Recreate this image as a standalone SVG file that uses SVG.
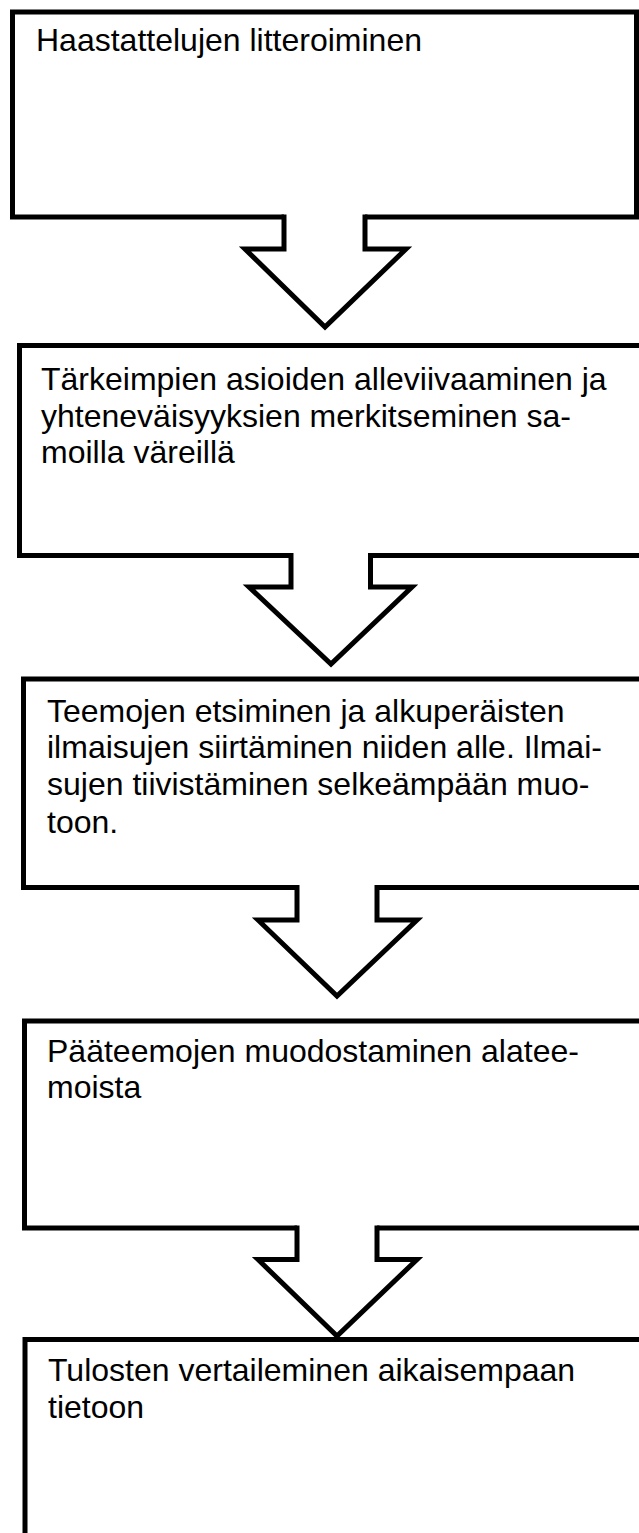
<svg xmlns="http://www.w3.org/2000/svg" width="639" height="1533" viewBox="0 0 639 1533">
<style>
.box{fill:#fff;stroke:#000;stroke-width:5;stroke-linejoin:miter}
.arr{fill:#fff;stroke:none}
.arl{fill:none;stroke:#000;stroke-width:5;stroke-linejoin:miter;stroke-miterlimit:10}
text{font-family:"Liberation Sans",Arial,sans-serif;font-size:32px;fill:#000}
</style>
<rect width="639" height="1533" fill="#fff"/>
<g id="node1"><rect class="box" x="12.5" y="12" width="624" height="205"/><text x="36" y="51">Haastattelujen litteroiminen</text></g>
<g id="node2"><rect class="box" x="19.5" y="345.5" width="640" height="210"/><text x="41" y="390">Tärkeimpien asioiden alleviivaaminen ja</text><text x="41" y="427">yhteneväisyyksien merkitseminen sa-</text><text x="41" y="463">moilla väreillä</text></g>
<g id="node3"><rect class="box" x="23.5" y="679" width="640" height="208.5"/><text x="47" y="722">Teemojen etsiminen ja alkuperäisten</text><text x="47" y="758">ilmaisujen siirtäminen niiden alle. Ilmai-</text><text x="47" y="795">sujen tiivistäminen selkeämpään muo-</text><text x="47" y="833">toon.</text></g>
<g id="node4"><rect class="box" x="24.5" y="1021" width="640" height="207"/><text x="47" y="1062">Pääteemojen muodostaminen alatee-</text><text x="47" y="1098">moista</text></g>
<g id="node5"><rect class="box" x="25" y="1339.5" width="640" height="260"/><text x="48" y="1381">Tulosten vertaileminen aikaisempaan</text><text x="48" y="1418">tietoon</text></g>
<g id="connectors">
<polygon class="arr" points="284,210 284,249 245,249 325,327 406,249 365,249 365,210"/>
<polyline class="arl" points="284,214.5 284,249 245,249 325,327 406,249 365,249 365,214.5"/>
<polygon class="arr" points="291,549 291,587 249,587 331,664 412,587 370.5,587 370.5,549"/>
<polyline class="arl" points="291,553 291,587 249,587 331,664 412,587 370.5,587 370.5,553"/>
<polygon class="arr" points="297,881 297,920 258,920 337,996 417,920 377,920 377,881"/>
<polyline class="arl" points="297,885 297,920 258,920 337,996 417,920 377,920 377,885"/>
<polygon class="arr" points="297,1222 297,1259.5 258,1259.5 337,1336 417,1259.5 377,1259.5 377,1222"/>
<polyline class="arl" points="297,1225.5 297,1259.5 258,1259.5 337,1336 417,1259.5 377,1259.5 377,1225.5"/>
</g>
</svg>
